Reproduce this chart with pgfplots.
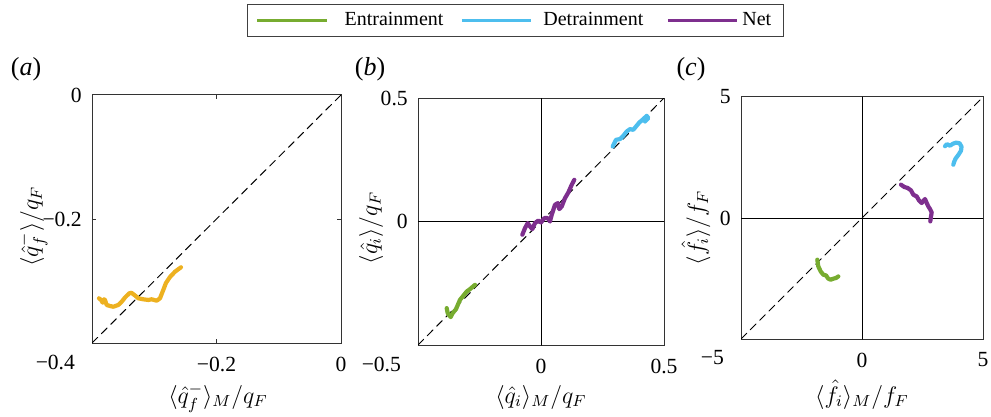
\documentclass[border=0pt]{standalone}
\usepackage{fontspec}
\setmainfont{Liberation Serif}
\usepackage{pgfplots}
\pgfplotsset{compat=1.18}

\definecolor{cEnt}{RGB}{119,172,48}
\definecolor{cDet}{RGB}{77,190,238}
\definecolor{cNet}{RGB}{126,47,142}
\definecolor{cOra}{RGB}{237,177,32}

\tikzset{
  corner/.style={anchor=east, font=\fontsize{10.8}{13}\selectfont, xshift=-5pt, yshift=-9.5pt},
}
\pgfplotsset{
  panel/.style={
    scale only axis, anchor=north west,
    axis line style={black!80, line width=0.5pt},
    tick style={black!80, line width=0.5pt},
    major tick length=2pt, tick align=inside,
    tick label style={font=\fontsize{10.8}{13}\selectfont},
    label style={font=\fontsize{11.5}{14}\selectfont},
    xticklabel style={yshift=-3.3pt},
    yticklabel style={xshift=-1.6pt},
    clip mode=individual,
    every axis plot/.append style={line width=2.1pt, line join=round, line cap=round},
  },
  diag/.style={black, line width=0.5pt, dash pattern=on 4pt off 2.6pt, forget plot},
  zero/.style={black, line width=0.5pt, forget plot},
  legEnt/.style={legend image code/.code={
    \draw[cEnt, line width=1.5pt, line cap=butt] (0pt,0pt) -- (35pt,0pt);}},
  legDet/.style={legend image code/.code={
    \draw[cDet, line width=1.5pt, line cap=butt] (0pt,0pt) -- (34.5pt,0pt);}},
  legNet/.style={legend image code/.code={
    \draw[cNet, line width=1.5pt, line cap=butt] (0pt,0pt) -- (34.5pt,0pt);}},
}

\begin{document}
\begin{tikzpicture}
\path[use as bounding box] (0,0) rectangle (495.5pt,-208.5pt);

% (a)
\begin{axis}[panel, at={(46pt,-47.5pt)}, width=124.5pt, height=124pt,
  xmin=-0.4, xmax=0, ymin=-0.4, ymax=0,
  xtick={-0.4,-0.2,0}, xticklabels={,−0.2,0},
  ytick={-0.4,-0.2,0}, yticklabels={,−0.2,0},
  xlabel={$\langle\hat{q}_f^-\rangle_M/q_F$},
  ylabel={$\langle\hat{q}_f^-\rangle/q_F$},
  xlabel style={at={(axis description cs:0.506,0)}, anchor=base, yshift=-30pt},
  ylabel style={at={(axis description cs:-0.237,0.47)}, anchor=center},
]
\addplot[diag] coordinates {(-0.4,-0.4) (0,0)};
\addplot[cOra] coordinates {
(-0.3888,-0.3279) (-0.3855,-0.3306) (-0.3828,-0.3350) (-0.3807,-0.3295)
(-0.3791,-0.3306) (-0.3764,-0.3387) (-0.3711,-0.3403) (-0.3658,-0.3415)
(-0.3578,-0.3387) (-0.3523,-0.3334) (-0.3470,-0.3266) (-0.3401,-0.3198)
(-0.3366,-0.3190) (-0.3309,-0.3234) (-0.3256,-0.3279) (-0.3176,-0.3295)
(-0.3096,-0.3306) (-0.3041,-0.3295) (-0.2961,-0.3318) (-0.2908,-0.3279)
(-0.2855,-0.3145) (-0.2812,-0.3032) (-0.2747,-0.2935) (-0.2667,-0.2850)
(-0.2571,-0.2779)};
\node[corner] at (rel axis cs:0,0) {−0.4};
\end{axis}

% (b)
\begin{axis}[panel, at={(209pt,-49pt)}, width=123pt, height=123.5pt,
  xmin=-0.5, xmax=0.5, ymin=-0.5, ymax=0.5,
  xtick={-0.5,0,0.5}, xticklabels={,0,0.5},
  ytick={-0.5,0,0.5}, yticklabels={,0,0.5},
  xlabel={$\langle\hat{q}_i\rangle_M/q_F$},
  ylabel={$\langle\hat{q}_i\rangle/q_F$},
  xlabel style={at={(axis description cs:0.5,0)}, anchor=base, yshift=-29pt},
  ylabel style={at={(axis description cs:-0.191,0.474)}, anchor=center},
  legend style={at={(axis description cs:0.396,1.314)}, anchor=center,
    draw=black!75, line width=0.6pt, legend columns=3,
    font=\fontsize{10}{12}\selectfont, inner xsep=4pt, inner ysep=2pt,
    /tikz/column 2/.append style={column sep=6.5pt},
    /tikz/column 4/.append style={column sep=9.5pt}},
]
\addplot[zero] coordinates {(0,-0.5) (0,0.5)};
\addplot[zero] coordinates {(-0.5,0) (0.5,0)};
\addplot[diag] coordinates {(-0.5,-0.5) (0.5,0.5)};
\addplot[cEnt, legEnt] coordinates {
(-0.3833,-0.3506) (-0.3793,-0.3709) (-0.3671,-0.3870) (-0.3589,-0.3709)
(-0.3455,-0.3547) (-0.3293,-0.3170) (-0.3159,-0.3008) (-0.3020,-0.2834)
(-0.2886,-0.2737) (-0.2683,-0.2563)};
\addlegendentry{\hspace{6pt}Entrainment}
\addplot[cDet, legDet] coordinates {
(0.2915,0.3036) (0.3049,0.3308) (0.3211,0.3336) (0.3346,0.3470)
(0.3484,0.3644) (0.3618,0.3741) (0.3752,0.3713) (0.3862,0.3846)
(0.3996,0.4008) (0.4159,0.4146) (0.4297,0.4279) (0.4362,0.4186)
(0.4228,0.4049)};
\addlegendentry{\hspace{3.5pt}Detrainment}
\addplot[cNet, legNet] coordinates {
(-0.0760,-0.0538) (-0.0650,-0.0267) (-0.0541,-0.0065) (-0.0447,-0.0202)
(-0.0354,-0.0308) (-0.0244,-0.0065) (-0.0110,0.0040) (0.0000,-0.0040)
(0.0134,0.0138) (0.0272,0.0138) (0.0366,0.0000) (0.0435,0.0271)
(0.0569,0.0676) (0.0679,0.0745) (0.0744,0.0502) (0.0841,0.0607)
(0.0976,0.0947) (0.1110,0.1174) (0.1248,0.1486) (0.1354,0.1688)};
\addlegendentry{Net}
\node[corner] at (rel axis cs:0,0) {−0.5};
\end{axis}

% (c)
\begin{axis}[panel, at={(370.5pt,-48.5pt)}, width=121pt, height=121pt,
  xmin=-5, xmax=5, ymin=-5, ymax=5,
  xtick={-5,0,5}, xticklabels={,0,5},
  ytick={-5,0,5}, yticklabels={,0,5},
  xlabel={$\langle\hat{f}_i\rangle_M/f_F$},
  ylabel={$\langle\hat{f}_i\rangle/f_F$},
  xlabel style={at={(axis description cs:0.5,0)}, anchor=base, yshift=-32pt},
  ylabel style={at={(axis description cs:-0.186,0.459)}, anchor=center},
]
\addplot[zero] coordinates {(0,-5) (0,5)};
\addplot[zero] coordinates {(-5,0) (5,0)};
\addplot[diag] coordinates {(-5,-5) (5,5)};
\addplot[cEnt] coordinates {
(-1.847,-1.723) (-1.806,-2.000) (-1.707,-2.207) (-1.599,-2.343)
(-1.488,-2.372) (-1.393,-2.508) (-1.293,-2.550) (-1.186,-2.508)
(-1.074,-2.479) (-0.979,-2.413)};
\addplot[cDet] coordinates {
(3.430,2.967) (3.512,3.050) (3.636,2.988) (3.760,3.070) (3.884,3.112)
(4.029,3.091) (4.112,2.946) (4.091,2.781) (3.988,2.616) (3.864,2.450)
(3.802,2.306) (3.773,2.202)};
\addplot[cNet] coordinates {
(1.612,1.376) (1.748,1.281) (1.888,1.240) (2.025,1.140) (2.120,0.963)
(2.260,0.893) (2.355,0.727) (2.467,0.620) (2.603,0.785) (2.674,0.620)
(2.740,0.479) (2.810,0.372) (2.880,0.231) (2.851,0.066) (2.822,-0.140)};
\node[corner] at (rel axis cs:0,0) {−5};
\end{axis}

\node[font=\fontsize{13}{15}\selectfont] at (13pt,-34.5pt) {(\textit{a})};
\node[font=\fontsize{13}{15}\selectfont] at (185pt,-34.5pt) {(\textit{b})};
\node[font=\fontsize{13}{15}\selectfont] at (345.5pt,-34.5pt) {(\textit{c})};
\end{tikzpicture}
\end{document}
